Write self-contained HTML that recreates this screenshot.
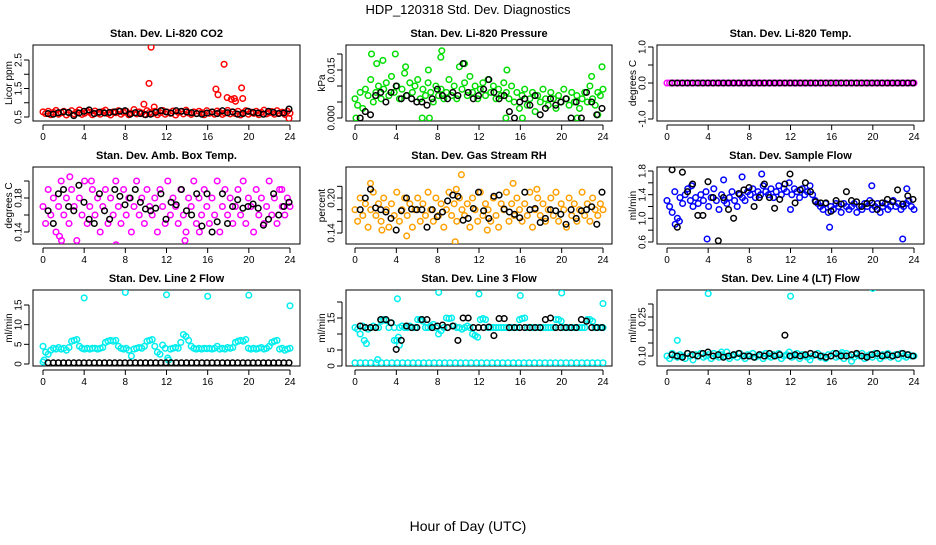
<!DOCTYPE html>
<html><head><meta charset="utf-8"><style>
html,body{margin:0;padding:0;background:#fff}
svg text{font-family:"Liberation Sans",Arial,sans-serif}
</style></head><body>
<svg id="chart" width="936" height="540" viewBox="0 0 936 540" xmlns="http://www.w3.org/2000/svg">
<text x="468" y="14" text-anchor="middle" font-size="13">HDP_120318  Std. Dev. Diagnostics</text>
<text x="468" y="531" text-anchor="middle" font-size="14">Hour of Day (UTC)</text>
</svg>
<script>
const xTicks=[0,4,8,12,16,20,24];
// Panel 1 CO2
const p1Color=[0.68,0.62,0.7,0.58,0.66,0.73,0.6,0.65,0.7,0.57,0.64,0.72,0.61,0.67,0.75,0.59,0.63,0.7,0.66,0.58,0.71,0.64,0.6,0.69,0.74,0.62,0.57,0.68,0.65,0.72,0.6,0.66,0.7,0.58,0.63,0.76,0.61,0.68,0.64,0.59,0.72,0.66,0.62,0.7,0.58,0.65,0.73,0.6,0.67,0.63,0.71,0.57,0.66,0.69,0.61,0.74,0.64,0.59,0.68,0.62,0.7,0.65,0.58,0.72,0.63,0.67,0.6,0.71,0.66,0.59,0.64,0.73,0.61,0.68,0.62,0.7,0.57,0.65,0.72,0.6,0.67,0.63,0.7,0.58,0.66,0.74,0.61,0.65,0.69,0.6,0.72,0.64,0.67,0.59,0.7,0.63];
const p1Black=[0.62,0.6,0.65,0.68,0.66,0.55,0.64,0.7,0.75,0.62,0.67,0.64,0.66,0.68,0.7,0.72,0.6,0.65,0.62,0.58,0.6,0.66,0.72,0.68,0.64,0.72,0.7,0.68,0.65,0.62,0.6,0.64,0.68,0.62,0.72,0.65,0.68,0.6,0.62,0.7,0.66,0.64,0.6,0.7,0.66,0.62,0.64,0.78];
const p1OutX=[10.5,10.3,9.8,10.8,16.8,17,17.6,17.9,18.3,18.6,18.7,19.3,19.4,23.9];
const p1OutY=[2.95,1.68,0.95,0.85,1.48,1.28,2.35,1.18,1.12,1.15,1.05,1.52,1.15,0.45];
// Panel 2 Pressure
const p2Color=[.006,.004,.008,.003,.009,.007,.012,.005,.008,.010,.006,.009,.011,.007,.013,.008,.010,.006,.009,.014,.007,.011,.008,.010,.012,.006,.009,.007,.011,.008,.005,.010,.007,.009,.006,.008,.012,.007,.010,.006,.016,.009,.011,.007,.013,.008,.010,.006,.009,.011,.007,.012,.008,.010,.006,.009,.007,.011,.008,.006,.010,.005,.008,.003,.007,.009,.004,.006,.008,.002,.007,.005,.009,.006,.004,.008,.006,.003,.007,.005,.009,.006,.004,.008,.005,.007,.003,.006,.008,.005,.010,.006,.004,.008,.007,.009];
const p2Black=[.000,.002,.001,.007,.008,.005,.008,.010,.006,.007,.006,.005,.005,.004,.006,.009,.007,.006,.008,.007,.017,.008,.006,.007,.009,.012,.008,.006,.007,.002,.000,.005,.006,.004,.007,.001,.003,.006,.004,.005,.006,.000,.005,.000,.008,.005,.001,.003];
const p2OutX=[1.6,3.9,8.3,8.4,2.1,2.7,4.9,7.1,10.6,14.7,23.9,0.1,6.5,7.2,14.6,16.2,21.5,23.5,22.9];
const p2OutY=[.020,.020,.019,.021,.017,.018,.016,.015,.017,.015,.016,0,0,0,0,0,0,.001,.013];
// Panel 3 Temp
const p3Color=[0,0,0,0,0,0,0,0,0,0,0,0,0,0,0,0,0,0,0,0,0,0,0,0,0,0,0,0,0,0,0,0,0,0,0,0,0,0,0,0,0,0,0,0,0,0,0,0,0,0,0,0,0,0,0,0,0,0,0,0,0,0,0,0,0,0,0,0,0,0,0,0,0,0,0,0,0,0,0,0,0,0,0,0,0,0,0,0,0,0,0,0,0,0,0,0];
const p3Black=[0,0,0,0,0,0,0,0,0,0,0,0,0,0,0,0,0,0,0,0,0,0,0,0,0,0,0,0,0,0,0,0,0,0,0,0,0,0,0,0,0,0,0,0,0,0,0,0];
const p3OutX=[],p3OutY=[];
// Panel 4 Amb box temp
const p4Color=[.17,.15,.19,.16,.18,.14,.17,.2,.16,.18,.15,.19,.17,.13,.18,.16,.2,.15,.17,.19,.16,.18,.14,.17,.19,.15,.18,.16,.2,.17,.15,.19,.16,.18,.14,.17,.2,.16,.18,.15,.19,.17,.16,.18,.14,.19,.17,.15,.2,.16,.18,.17,.15,.19,.16,.14,.18,.17,.2,.15,.18,.16,.19,.17,.15,.18,.16,.2,.14,.17,.19,.16,.18,.15,.17,.19,.16,.2,.15,.18,.17,.14,.19,.16,.18,.15,.17,.2,.16,.18,.15,.19,.17,.16,.18,.17];
const p4Black=[.165,.15,.185,.19,.17,.165,.195,.175,.155,.15,.185,.165,.155,.19,.182,.172,.18,.19,.175,.167,.165,.168,.185,.155,.175,.172,.19,.165,.16,.185,.147,.185,.14,.152,.185,.15,.17,.178,.168,.17,.173,.168,.148,.155,.185,.16,.17,.175];
const p4OutX=[2.6,4.7,7.1,1.6,1.8,15.2,23.2,13.8];
const p4OutY=[.205,.2,.125,.135,.13,.14,.19,.13];
// Panel 5 Gas stream RH
const p5Color=[.18,.16,.2,.17,.19,.15,.18,.21,.17,.19,.16,.2,.18,.15,.19,.17,.21,.16,.18,.2,.17,.19,.15,.18,.2,.16,.19,.17,.21,.18,.16,.2,.17,.19,.15,.18,.21,.17,.19,.16,.2,.18,.17,.19,.15,.2,.18,.16,.21,.17,.19,.18,.16,.2,.17,.15,.19,.18,.21,.16,.19,.17,.2,.18,.16,.19,.17,.21,.15,.18,.2,.17,.19,.16,.18,.2,.17,.21,.16,.19,.18,.15,.2,.17,.19,.16,.18,.21,.17,.19,.16,.2,.18,.17,.19,.18];
const p5Black=[.18,.2,.215,.183,.18,.176,.165,.145,.178,.2,.181,.18,.18,.15,.18,.168,.176,.195,.205,.203,.162,.165,.182,.21,.178,.165,.203,.205,.181,.176,.172,.166,.21,.18,.182,.158,.165,.18,.178,.172,.155,.18,.165,.178,.18,.185,.155,.21];
const p5OutX=[1.5,9.8,10.3,12.8,15.3,17.6,5,2.6,9.7];
const p5OutY=[.225,.215,.24,.145,.225,.215,.135,.145,.125];
// Panel 6 Sample flow
const p6Color=[1.3,1.2,1.1,1.45,1.0,1.35,1.25,1.4,1.5,1.3,1.2,1.35,1.25,1.4,1.3,1.45,1.2,1.35,1.5,1.3,1.15,1.4,1.3,1.25,1.35,1.45,1.3,1.2,1.4,1.35,1.3,1.45,1.4,1.5,1.35,1.45,1.4,1.55,1.45,1.4,1.5,1.35,1.45,1.55,1.4,1.5,1.45,1.6,1.4,1.5,1.45,1.35,1.5,1.4,1.45,1.55,1.4,1.3,1.25,1.2,1.15,1.25,1.1,1.2,1.15,1.25,1.2,1.1,1.25,1.2,1.15,1.2,1.25,1.1,1.2,1.15,1.25,1.2,1.3,1.15,1.2,1.25,1.1,1.2,1.25,1.15,1.2,1.3,1.2,1.25,1.15,1.2,1.25,1.3,1.2,1.15];
const p6Black=[1.82,0.85,1.78,1.45,1.58,1.05,1.05,1.62,1.35,0.62,1.35,1.15,1.0,1.42,1.48,1.52,1.2,1.35,1.58,1.35,1.17,1.32,1.58,1.75,1.26,1.48,1.6,1.45,1.28,1.26,1.26,1.12,1.3,1.24,1.45,1.3,1.28,1.2,1.25,1.26,1.15,1.26,1.32,1.28,1.48,1.24,1.38,1.32];
const p6OutX=[0.8,2.4,3.9,7.3,9.2,15.8,19.9,22.9,23.3,12,1.2,5.5];
const p6OutY=[0.9,1.55,0.65,1.7,1.75,0.85,1.55,0.65,1.5,1.15,0.95,1.65];
// Panel 7 Line 2 flow
const p7Color=[4.5,3,2.5,3.5,4,3.8,4.2,3.8,4,3.5,4.2,5.8,6,6.2,4.5,4,3.8,4,3.8,4,4,3.8,4,4.2,5.5,5.8,6,5.8,6,4.5,4,3.8,4,3.5,2,3.8,4,4.2,4,4.5,5.8,6,6.2,4.5,3,2.5,4.8,4,1.5,3.8,4,4.2,4,5.5,7.5,7,6,4.5,4,3.8,4,3.8,4,3.9,4,3.8,4,4.5,3.8,4,3.8,4.2,4,4.2,5.5,5.8,6,5.8,6.2,4,3.8,4,3.8,4,4.2,3.8,4,4.5,5.5,5.8,6,3.8,4,3.5,3.8,4];
const p7Black=[0.3,0.3,0.3,0.3,0.3,0.3,0.3,0.3,0.3,0.3,0.3,0.3,0.3,0.3,0.3,0.3,0.3,0.3,0.3,0.3,0.3,0.3,0.3,0.3,0.3,0.3,0.3,0.3,0.3,0.3,0.3,0.3,0.3,0.3,0.3,0.3,0.3,0.3,0.3,0.3,0.3,0.3,0.3,0.3,0.3,0.3,0.3,0.3];
const p7OutX=[4,8,12,16,20,24,0,12.2,0.1];
const p7OutY=[16.8,18.2,17.6,17.2,17.5,14.8,0.5,1,1];
// Panel 8 Line 3 flow
const p8Color=[12,11.5,10,12.5,12,11.5,12,12.5,12,12,14,14.5,14.2,12,13.5,12,8,12,12.5,12,12,12.5,12,12,14.5,14.5,14,12,12,12.5,13,12,10,11,12,15,14.8,15,12.5,12,12,11.5,12,12.5,12,10,9.5,9,14.5,14.8,14.5,12,12,12,12,12,12,12,12,12,12,12,12,14.5,14.8,15,12,12,12,12,12,12,12,12,12,12,12,14.5,14.5,14,12,12,12,12,12,12,12,12,12,14.5,14.5,14,12,12,12,12];
const p8Low=[1,1,1,1,1,1,1,1,1,1,1,1,1,1,1,1,1,1,1,1,1,1,1,1,1,1,1,1,1,1,1,1,1,1,1,1,1,1,1,1,1,1,1,1,1,1,1,1];
const p8Black=[12.5,12,12,12,14.5,14.5,13.5,5.2,8,12.5,12,12,14.5,14.5,12,12.5,12.8,12,12.5,8,15,15,12,12,12,12.2,9.5,14.8,14.8,12,12,12,12,12,12,12,14.5,15,12,12,12,12,12,14.5,14,12,12,12];
const p8OutX=[4.1,8.1,12,16,20,24,3.8,1.1,4.3,2.2,0.9,4.2];
const p8OutY=[21,23,22.5,22,22.8,19.5,8,7,6.5,2,8,9];
// Panel 9 Line 4 flow
const p9Color=[0.1,0.09,0.11,0.1,0.095,0.105,0.1,0.09,0.11,0.1,0.085,0.105,0.1,0.11,0.095,0.1,0.105,0.09,0.11,0.1,0.095,0.105,0.1,0.115,0.09,0.1,0.105,0.095,0.11,0.1,0.09,0.105,0.1,0.11,0.095,0.1,0.105,0.09,0.11,0.1,0.095,0.105,0.1,0.11,0.09,0.1,0.105,0.115,0.095,0.1,0.11,0.09,0.105,0.1,0.095,0.085,0.1,0.105,0.11,0.095,0.1,0.09,0.105,0.1,0.11,0.095,0.1,0.105,0.09,0.11,0.1,0.08,0.095,0.105,0.1,0.11,0.09,0.1,0.105,0.095,0.11,0.1,0.09,0.105,0.1,0.11,0.095,0.1,0.105,0.09,0.11,0.1,0.095,0.105,0.1,0.1];
const p9Black=[0.105,0.1,0.095,0.11,0.105,0.1,0.11,0.115,0.1,0.105,0.095,0.1,0.105,0.11,0.1,0.1,0.095,0.105,0.1,0.11,0.1,0.105,0.18,0.1,0.105,0.1,0.105,0.11,0.105,0.1,0.095,0.1,0.11,0.1,0.1,0.105,0.11,0.1,0.095,0.105,0.11,0.1,0.105,0.1,0.105,0.11,0.105,0.1];
const p9OutX=[4,12,20,1,5.3,17];
const p9OutY=[0.34,0.33,0.36,0.16,0.115,0.113];

const svg=document.getElementById('chart');
const NS='http://www.w3.org/2000/svg';
function mk(tag,attrs,parent){const e=document.createElementNS(NS,tag);for(const k in attrs)e.setAttribute(k,attrs[k]);(parent||svg).appendChild(e);return e;}

const cols=[{bx0:33,bx1:300,x0:43,x24:290},{bx0:346,bx1:612,x0:355,x24:603},{bx0:657,bx1:924,x0:667,x24:914}];
const rows=[{top:45,bot:121},{top:167,bot:244},{top:290,bot:366}];
const panels=[
 {name:'co2',title:'Stan. Dev. Li-820 CO2',ylab:'Licor ppm',color:'#ff0000',r:0,c:0,va:0.5,pa:117,vb:2.5,pb:60,ticks:[0.5,1,1.5,2,2.5],labels:['0.5','','1.5','','2.5'],col:p1Color,blk:p1Black,ox:p1OutX,oy:p1OutY},
 {name:'pressure',title:'Stan. Dev. Li-820 Pressure',ylab:'kPa',color:'#00dd00',r:0,c:1,va:0,pa:118,vb:0.015,pb:70,ticks:[0,0.005,0.01,0.015,0.02],labels:['0.000','','','0.015',''],col:p2Color,blk:p2Black,ox:p2OutX,oy:p2OutY},
 {name:'temp',title:'Stan. Dev. Li-820 Temp.',ylab:'degrees C',color:'#ff00ff',r:0,c:2,va:-1,pa:119,vb:1,pb:47,ticks:[-1,-0.5,0,0.5,1],labels:['-1.0','','0.0','','1.0'],col:p3Color,blk:p3Black,ox:p3OutX,oy:p3OutY},
 {name:'box-temp',title:'Stan. Dev. Amb. Box Temp.',ylab:'degrees C',color:'#ff00ff',r:1,c:0,va:0.14,pa:232,vb:0.18,pb:198,ticks:[0.14,0.16,0.18,0.2],labels:['0.14','','0.18',''],col:p4Color,blk:p4Black,ox:p4OutX,oy:p4OutY},
 {name:'rh',title:'Stan. Dev. Gas Stream RH',ylab:'percent',color:'#ffa000',r:1,c:1,va:0.14,pa:233,vb:0.2,pb:198,ticks:[0.14,0.16,0.18,0.2,0.22],labels:['0.14','','','0.20',''],col:p5Color,blk:p5Black,ox:p5OutX,oy:p5OutY},
 {name:'sample-flow',title:'Stan. Dev. Sample Flow',ylab:'ml/min',color:'#0000ff',r:1,c:2,va:0.6,pa:242,vb:1.8,pb:171,ticks:[0.6,0.8,1,1.2,1.4,1.6,1.8],labels:['0.6','','1.0','','1.4','','1.8'],col:p6Color,blk:p6Black,ox:p6OutX,oy:p6OutY},
 {name:'line2-flow',title:'Stan. Dev. Line 2 Flow',ylab:'ml/min',color:'#00eeee',r:2,c:0,va:0,pa:364,vb:15,pb:305,ticks:[0,5,10,15],labels:['0','5','10','15'],col:p7Color,blk:p7Black,ox:p7OutX,oy:p7OutY},
 {name:'line3-flow',title:'Stan. Dev. Line 3 Flow',ylab:'ml/min',color:'#00eeee',r:2,c:1,va:0,pa:366,vb:15,pb:318,ticks:[0,5,10,15,20],labels:['0','5','','15',''],col:p8Color,low:p8Low,blk:p8Black,ox:p8OutX,oy:p8OutY},
 {name:'line4-flow',title:'Stan. Dev. Line 4 (LT) Flow',ylab:'ml/min',color:'#00eeee',r:2,c:2,va:0.1,pa:356,vb:0.25,pb:317,ticks:[0.1,0.15,0.2,0.25,0.3],labels:['0.10','','','0.25',''],col:p9Color,blk:p9Black,ox:p9OutX,oy:p9OutY}
];

panels.forEach(p=>{
 const C=cols[p.c],R=rows[p.r];
 const ylx=C.bx0-25, tlx=C.bx0-15;
 const g=mk('g',{});
 
 
 const xs=h=>C.x0+(C.x24-C.x0)*h/24;
 const ys=v=>p.pa+(v-p.va)*(p.pb-p.pa)/(p.vb-p.va);
 const clip='clip-'+p.name;
 const cp=mk('clipPath',{id:clip},g);
 mk('rect',{x:C.bx0,y:R.top,width:C.bx1-C.bx0,height:R.bot-R.top},cp);
 const t=mk('text',{x:(C.bx0+C.bx1)/2,y:R.top-8,'text-anchor':'middle','font-size':'11','font-weight':'bold'},g);
 t.textContent=p.title;
 
 
 const cy=(R.top+R.bot)/2;
 const yl=mk('text',{x:ylx,y:cy+4,'text-anchor':'middle','font-size':'10',transform:`rotate(-90 ${ylx} ${cy})`},g);
 yl.textContent=p.ylab;
 
 
 const xa=mk('g',{},g);
 
 
 mk('line',{x1:xs(0),x2:xs(24),y1:R.bot+4,y2:R.bot+4,stroke:'#000','stroke-width':1},xa);
 xTicks.forEach(h=>{
  mk('line',{x1:xs(h),x2:xs(h),y1:R.bot+4,y2:R.bot+9,stroke:'#000','stroke-width':1},xa);
  const tl=mk('text',{x:xs(h),y:R.bot+19,'text-anchor':'middle','font-size':'10'},xa);
  tl.textContent=String(h);
 });
 const ya=mk('g',{},g);
 
 
 mk('line',{x1:C.bx0-4,x2:C.bx0-4,y1:ys(p.ticks[0]),y2:ys(p.ticks[p.ticks.length-1]),stroke:'#000','stroke-width':1},ya);
 p.ticks.forEach((v,i)=>{
  const y=ys(v);
  mk('line',{x1:C.bx0-9,x2:C.bx0-4,y1:y,y2:y,stroke:'#000','stroke-width':1},ya);
  if(p.labels[i]){
   const tl=mk('text',{x:tlx,y:y+3.5,'text-anchor':'middle','font-size':'10',transform:`rotate(-90 ${tlx} ${y})`},ya);
   tl.textContent=p.labels[i];
  }
 });
 const box=mk('rect',{x:C.bx0,y:R.top,width:C.bx1-C.bx0,height:R.bot-R.top,fill:'none',stroke:'#000','stroke-width':1},g);
 
 
 const pts=mk('g',{'clip-path':`url(#${clip})`,fill:'none','stroke-width':1.5},g);
 
 
 function dot(h,v,color){
  const c=mk('circle',{cx:xs(h).toFixed(1),cy:ys(v).toFixed(1),r:2.8,stroke:color},pts);
  
  
 }
 p.col.forEach((v,i)=>dot(24*i/(p.col.length-1),v,p.color));
 if(p.low)p.low.forEach((v,i)=>dot(24*i/(p.low.length-1),v,p.color));
 p.ox.forEach((h,i)=>dot(h,p.oy[i],p.color));
 p.blk.forEach((v,i)=>dot(0.5+23.4*i/(p.blk.length-1),v,'#000'));
});
</script>
</body></html>
